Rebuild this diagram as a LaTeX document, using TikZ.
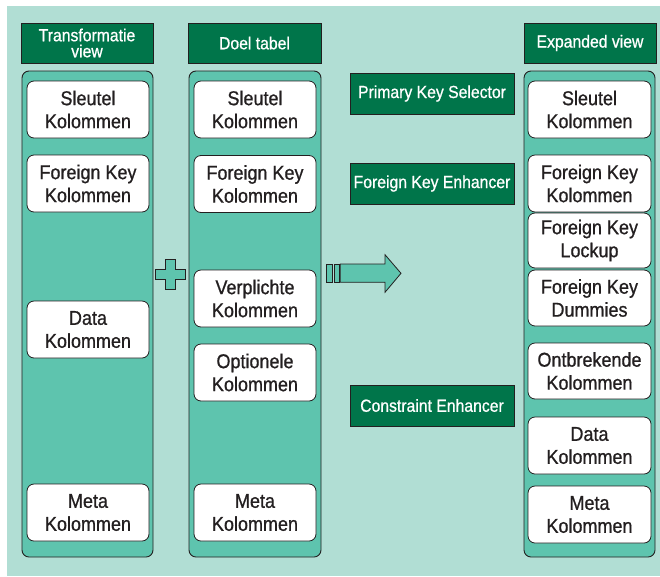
\documentclass[tikz,border=0pt]{standalone}
\usepackage{fontspec}
\newfontfamily\condfont[FakeStretch=0.9,FakeBold=0.8]{Liberation Sans}
\definecolor{bgteal}{HTML}{B1DED4}
\definecolor{colteal}{HTML}{5EC4AE}
\definecolor{dgreen}{HTML}{00754A}
\definecolor{lineclr}{HTML}{231F20}
\tikzset{
  hdr/.style={draw=lineclr, line width=0.9pt, fill=dgreen, text=white, inner sep=0pt,
    align=center, font=\condfont\fontsize{17.5}{16}\selectfont},
  colbox/.style={draw=lineclr, line width=0.9pt, fill=colteal, rounded corners=7pt, inner sep=0pt},
  item/.style={draw=lineclr, line width=0.8pt, fill=white, rounded corners=7pt, inner sep=0pt,
    align=center, text=lineclr, font=\condfont\fontsize{20}{23}\selectfont},
  sym/.style={draw=lineclr, line width=0.8pt, fill=colteal}
}
\begin{document}
\begin{tikzpicture}[x=1pt,y=-1pt]
\useasboundingbox (0,0) rectangle (660,576);
\fill[bgteal] (7,6) rectangle (660,576);
% headers
\node[hdr, minimum width=132pt, minimum height=40pt] (h1) at (87,43) {Transformatie\\view};
\node[hdr, minimum width=133pt, minimum height=40pt] (h2) at (254.5,43) {Doel tabel};
\node[hdr, minimum width=132pt, minimum height=40pt] (h3) at (590,43) {Expanded view};
% columns
\node[colbox, minimum width=131pt, minimum height=486pt] (c1) at (87.5,314) {};
\node[colbox, minimum width=132pt, minimum height=486pt] (c2) at (255,314) {};
\node[colbox, minimum width=131pt, minimum height=486pt] (c3) at (589.5,314) {};
% left items
\node[item, minimum width=122pt, minimum height=57pt] (l1) at (88,109.5) {Sleutel\\Kolommen};
\node[item, minimum width=122pt, minimum height=57pt] (l2) at (88,183.5) {Foreign Key\\Kolommen};
\node[item, minimum width=122pt, minimum height=57pt] (l3) at (88,329.5) {Data\\Kolommen};
\node[item, minimum width=122pt, minimum height=57pt] (l4) at (88,512.5) {Meta\\Kolommen};
% middle items
\node[item, minimum width=122pt, minimum height=57pt] (m1) at (255,109.5) {Sleutel\\Kolommen};
\node[item, minimum width=122pt, minimum height=57pt] (m2) at (255,184) {Foreign Key\\Kolommen};
\node[item, minimum width=122pt, minimum height=57pt] (m3) at (255,298.5) {Verplichte\\Kolommen};
\node[item, minimum width=122pt, minimum height=57pt] (m4) at (255,372.5) {Optionele\\Kolommen};
\node[item, minimum width=122pt, minimum height=57pt] (m5) at (255,512.5) {Meta\\Kolommen};
% right items
\node[item, minimum width=123pt, minimum height=57pt] (r1) at (589.5,109.5) {Sleutel\\Kolommen};
\node[item, minimum width=123pt, minimum height=57pt] (r2) at (589.5,183.5) {Foreign Key\\Kolommen};
\node[item, minimum width=123pt, minimum height=55pt] (r3) at (589.5,240.5) {Foreign Key\\Lockup};
\node[item, minimum width=123pt, minimum height=56pt] (r4) at (589.5,298) {Foreign Key\\Dummies};
\node[item, minimum width=123pt, minimum height=56pt] (r5) at (589.5,371) {Ontbrekende\\Kolommen};
\node[item, minimum width=123pt, minimum height=57pt] (r6) at (589.5,445.5) {Data\\Kolommen};
\node[item, minimum width=123pt, minimum height=57pt] (r7) at (589.5,514.5) {Meta\\Kolommen};
% enhancer labels
\node[hdr, minimum width=164pt, minimum height=41pt] (pks) at (432,93.5) {Primary Key Selector};
\node[hdr, minimum width=164pt, minimum height=41pt] (fke) at (432,183.5) {Foreign Key Enhancer};
\node[hdr, minimum width=164pt, minimum height=41pt] (ce) at (432,405.5) {Constraint Enhancer};
% plus sign
\draw[sym] (165.7,259) -- (175,259) -- (175,269.3) -- (185.7,269.3) -- (185.7,279.3)
  -- (175,279.3) -- (175,289) -- (165.7,289) -- (165.7,279.3) -- (155.7,279.3)
  -- (155.7,269.3) -- (165.7,269.3) -- cycle;
% arrow
\draw[sym] (326,264) rectangle (332.7,282.3);
\draw[sym] (334.7,264) rectangle (339.3,282.3);
\draw[sym] (340.3,264) -- (385,264) -- (385,254.7) -- (401,273.3) -- (385,292.3)
  -- (385,282.3) -- (340.3,282.3) -- cycle;
\end{tikzpicture}
\end{document}
